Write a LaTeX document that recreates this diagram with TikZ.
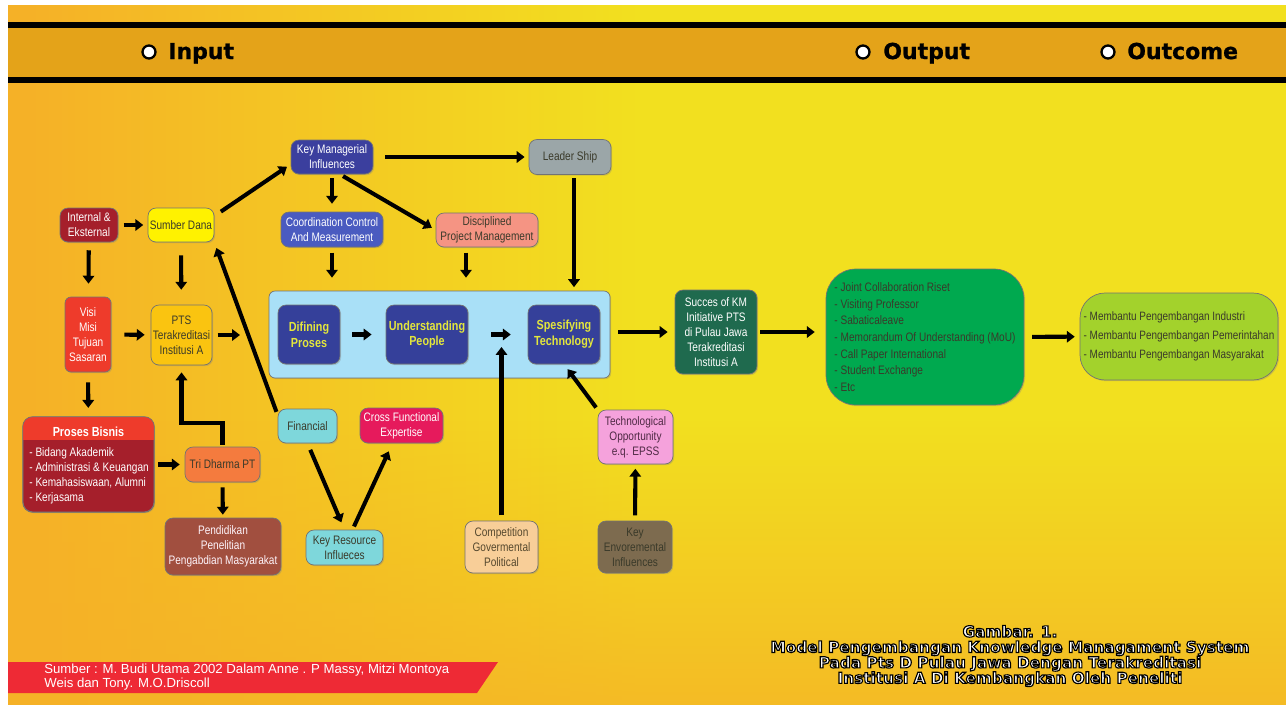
\documentclass[tikz,border=0pt]{standalone}
\usepackage{fontspec}
\setmainfont{Liberation Sans}
\newfontfamily\narrowfont[FakeStretch=0.82]{Liberation Sans}
\newfontfamily\headfont{DejaVu Sans}
\newfontfamily\heavyfont[FakeBold=1]{DejaVu Sans Bold}
\usetikzlibrary{arrows.meta,shadows,fadings,positioning}

\definecolor{bgorange}{HTML}{F5B127}
\definecolor{bgyellow}{HTML}{F2E01F}
\definecolor{bandorange}{HTML}{E4A319}
\definecolor{darkred}{HTML}{A51F2B}
\definecolor{brightred}{HTML}{EE3B2B}
\definecolor{lemon}{HTML}{FFF200}
\definecolor{gold}{HTML}{FAC410}
\definecolor{navy}{HTML}{3B3F9E}
\definecolor{midblue}{HTML}{4A5BC0}
\definecolor{slate}{HTML}{9BA6A8}
\definecolor{salmon}{HTML}{F59483}
\definecolor{skyblue}{HTML}{A9E0F7}
\definecolor{innerblue}{HTML}{35409A}
\definecolor{inneryellow}{HTML}{E3E63C}
\definecolor{teal}{HTML}{1F6A4E}
\definecolor{kmgreen}{HTML}{00A94F}
\definecolor{lime}{HTML}{A3D22C}
\definecolor{tangerine}{HTML}{F47B3E}
\definecolor{rust}{HTML}{A14F3F}
\definecolor{aqua}{HTML}{7ED7DB}
\definecolor{magenta}{HTML}{E61A5C}
\definecolor{pink}{HTML}{F5A2DC}
\definecolor{peach}{HTML}{F8CE98}
\definecolor{mud}{HTML}{7D6B4F}
\definecolor{bannerred}{HTML}{EE2A35}
\definecolor{darktext}{HTML}{3A3A2A}

% white letters with a black rim
\newcommand{\rimmed}[1]{\special{pdf:literal direct 2 Tr 0.65 w 0 0 0 RG}#1\special{pdf:literal direct 0 Tr}}

\begin{document}
\begin{tikzpicture}[x=0.02cm,y=-0.02cm,>={Triangle[length=4.5pt,width=6.5pt]},
                    font=\narrowfont\fontsize{7}{8.5}\selectfont]
  \tikzstyle{box}=[draw=black!55,line width=0.4pt,rounded corners=0.16cm,align=center,
                   inner sep=1pt,text=darktext,
                   drop shadow={opacity=0.3,shadow xshift=0.7pt,shadow yshift=-0.7pt}]
  \tikzstyle{inner}=[box,fill=innerblue,text=inneryellow,minimum height=1.18cm,
                     font=\narrowfont\bfseries\fontsize{7.5}{9}\selectfont]
  \tikzstyle{arr}=[->,line width=2.3pt,shorten <=3pt,shorten >=2.5pt]
  \tikzstyle{headtext}=[anchor=base west,inner sep=0pt,font=\heavyfont\fontsize{12.5}{14}\selectfont]
  \tikzstyle{headdot}=[circle,draw=black,fill=white,line width=1.3pt,minimum size=0.26cm,inner sep=0pt]

  \useasboundingbox (0,0) rectangle (1286,704);
  % background and header band
  \fill[white] (0,0) rectangle (1286,704);
  \fill[bgorange] (8,5) rectangle (30,712);
  \shade[left color=bgorange,right color=bgyellow] (29,5) rectangle (641,712);
  \fill[bgyellow] (640,5) rectangle (1290,712);
  \fill[bgorange,opacity=0.8,path fading=north] (8,420) rectangle (1290,712);
  \fill[black] (8,22) rectangle (1290,28);
  \fill[bandorange] (8,28) rectangle (1290,77);
  \fill[black] (8,77) rectangle (1290,83);

  \node[headdot] (indot) at (149,52) {};
  \node[headtext] (intext) at (168,59) {Input};
  \node[headdot] (outdot) at (863,52) {};
  \node[headtext] (outtext) at (883,59) {Output};
  \node[headdot] (outcomedot) at (1108,52) {};
  \node[headtext] (outcometext) at (1127,59) {Outcome};

  % left column
  \node[box,fill=darkred,text=white,minimum width=1.16cm,minimum height=0.68cm] (intern) at (89,225) {Internal \&\\Eksternal};
  \node[box,fill=lemon,minimum width=1.32cm,minimum height=0.68cm] (sumber) at (181,225) {Sumber Dana};
  \node[box,fill=brightred,text=white,rounded corners=0.12cm,minimum width=0.92cm,minimum height=1.5cm] (visi) at (88,334.5) {Visi\\Misi\\Tujuan\\Sasaran};
  \node[box,fill=gold,minimum width=1.22cm,minimum height=1.2cm] (pts) at (181.5,335) {PTS\\Terakreditasi\\Institusi A};
  \node[box,fill=darkred,rounded corners=0.2cm,minimum width=2.62cm,minimum height=1.9cm] (bisnis) at (88.5,464.5) {};
  \begin{scope}
    \clip[rounded corners=0.2cm] (bisnis.south west) rectangle (bisnis.north east);
    \fill[brightred] (bisnis.north west) rectangle ([yshift=-0.46cm]bisnis.north east);
  \end{scope}
  \draw[black!55,line width=0.4pt,rounded corners=0.2cm] (bisnis.south west) rectangle (bisnis.north east);
  \node[anchor=north,text=white,font=\narrowfont\bfseries\fontsize{7.5}{9}\selectfont] (bisnistitle) at ([yshift=-0.08cm]bisnis.north) {Proses Bisnis};
  \node[anchor=north west,align=left,text=white,inner sep=0pt] (bisnislist) at (29,447) {- Bidang Akademik\\- Administrasi \& Keuangan\\- Kemahasiswaan, Alumni\\- Kerjasama};
  \node[box,fill=tangerine,minimum width=1.5cm,minimum height=0.7cm] (tri) at (222.5,464.5) {Tri Dharma PT};
  \node[box,fill=rust,text=white!88!pink,minimum width=2.32cm,minimum height=1.14cm] (didik) at (223,546.5) {Pendidikan\\Penelitian\\Pengabdian Masyarakat};

  % managerial influences
  \node[box,fill=navy,text=white,minimum width=1.64cm,minimum height=0.68cm] (keym) at (332,157) {Key Managerial\\Influences};
  \node[box,fill=slate,minimum width=1.64cm,minimum height=0.7cm] (leader) at (570,157) {Leader Ship};
  \node[box,fill=midblue,text=white,minimum width=2.04cm,minimum height=0.7cm] (coord) at (332,229.5) {Coordination Control\\And Measurement};
  \node[box,fill=salmon,minimum width=2.04cm,minimum height=0.68cm] (disc) at (487,230) {Disciplined\\Project Management};

  % knowledge panel
  \node[box,fill=skyblue,rounded corners=0.12cm,minimum width=6.82cm,minimum height=1.74cm] (panel) at (439.5,334.5) {};
  \node[inner,minimum width=1.24cm] (dfn) at (309,334.5) {Difining\\Proses};
  \node[inner,minimum width=1.64cm] (under) at (427,334.5) {Understanding\\People};
  \node[inner,minimum width=1.44cm] (spes) at (564,334.5) {Spesifying\\Technology};

  % resources
  \node[box,fill=aqua,minimum width=1.18cm,minimum height=0.68cm] (fin) at (307.5,426) {Financial};
  \node[box,fill=magenta,text=white,minimum width=1.66cm,minimum height=0.7cm] (cross) at (401.5,425.5) {Cross Functional\\Expertise};
  \node[box,fill=aqua,minimum width=1.54cm,minimum height=0.7cm] (keyres) at (344.5,547.5) {Key Resource\\Influeces};
  \node[box,fill=peach,text=darktext!80!brown,minimum width=1.46cm,minimum height=1.04cm] (comp) at (501.5,547) {Competition\\Govermental\\Political};
  \node[box,fill=pink,text=darktext!70!violet,minimum width=1.5cm,minimum height=1.08cm] (tech) at (635.5,437) {Technological\\Opportunity\\e.q. EPSS};
  \node[box,fill=mud,minimum width=1.48cm,minimum height=1.04cm] (env) at (635,547) {Key\\Envoremental\\Influences};

  % output and outcome
  \node[box,fill=teal,text=white,minimum width=1.64cm,minimum height=1.68cm] (succes) at (716,332) {Succes of KM\\Initiative PTS\\di Pulau Jawa\\Terakreditasi\\Institusi A};
  \node[box,fill=kmgreen,align=left,rounded corners=0.6cm,minimum width=3.96cm,minimum height=2.72cm,
        font=\narrowfont\fontsize{7}{9.5}\selectfont] (joint) at (925,337) {- Joint Collaboration Riset\\- Visiting Professor\\- Sabaticaleave\\- Memorandum Of Understanding (MoU)\\- Call Paper International\\- Student Exchange\\- Etc};
  \node[box,fill=lime,align=left,rounded corners=0.5cm,minimum width=3.96cm,minimum height=1.74cm,
        font=\narrowfont\fontsize{6.9}{10.8}\selectfont] (bantu) at (1179,336.5) {- Membantu Pengembangan Industri\\- Membantu Pengembangan Pemerintahan\\- Membantu Pengembangan Masyarakat};

  \coordinate (ptsend) at (240,335);
  \coordinate (compend) at (501.5,347);

  % connectors
  \draw[arr] (intern) -- (sumber);
  \draw[arr,shorten <=4.5pt,shorten >=7.4pt] (intern) -- (visi);
  \draw[arr,shorten <=7.4pt,shorten >=8.5pt] (sumber) -- (pts);
  \draw[arr,shorten <=7.4pt,shorten >=3.4pt] (visi) -- (pts);
  \draw[arr,shorten >=0pt] (pts) -- (ptsend);
  \draw[arr,shorten <=5.7pt,shorten >=5pt] (visi) -- (bisnis);
  \draw[arr,shorten <=4.5pt] (sumber.15) -- (keym.190);
  \draw[arr,shorten <=6.8pt,shorten >=2.3pt] (keym) -- (leader);
  \draw[arr,shorten <=2.3pt,shorten >=4.5pt] (keym) -- (coord);
  \draw[arr,shorten <=2pt] ([xshift=0.16cm]keym.south) -- (disc.west);
  \draw[arr,shorten >=7.4pt] (coord.south) -- (coord.south |- panel.north);
  \draw[arr,shorten >=7.4pt] ([xshift=-0.42cm]disc.south) -- ([xshift=-0.42cm]disc.south |- panel.north);
  \draw[arr,shorten <=2pt,shorten >=2pt] ([xshift=0.08cm]leader.south) -- ([xshift=0.08cm]leader.south |- panel.north);
  \draw[arr,shorten <=2pt,shorten >=3.4pt] (fin.160) -- (sumber.south east);
  \draw[arr,shorten <=1pt,shorten >=4pt] (tri.north) -- ++(0,-24) -| (pts.south);
  \draw[arr,shorten <=2.3pt,shorten >=2.8pt] (bisnis.east |- tri.west) -- (tri.west);
  \draw[arr,shorten <=2.8pt,shorten >=1.7pt] (tri) -- (didik);
  \draw[arr,shorten <=4pt,shorten >=4.5pt] (fin.south) -- (keyres.north);
  \draw[arr,shorten <=2pt,shorten >=5pt] ([xshift=0.16cm]keyres.north) -- ([xshift=-0.18cm]cross.south);
  \draw[arr,shorten >=0pt] (comp.north) -- (compend);
  \draw[arr,shorten <=1.5pt,shorten >=3.4pt] (tech.north west) -- (spes.south);
  \draw[arr] (env) -- (tech);
  \draw[arr,shorten <=6.8pt,shorten >=8pt] (dfn) -- (under);
  \draw[arr,shorten <=13pt,shorten >=9.6pt] (under) -- (spes);
  \draw[arr,shorten <=4.5pt,shorten >=4pt] (panel.east |- succes.west) -- (succes.west);
  \draw[arr,shorten <=1.7pt,shorten >=6.2pt] (succes.east) -- (succes.east -| joint.west);
  \draw[arr,shorten <=4.5pt,shorten >=2.8pt] (joint) -- (bantu);

  % footer
  \fill[bannerred] (8,662) -- (498,662) -- (477,693) -- (8,693) -- cycle;
  \node[anchor=north west,align=left,text=white,inner sep=0pt,font=\fontsize{7.5}{8}\selectfont] (source) at (44,664)
       {Sumber : M. Budi Utama 2002 Dalam Anne . P Massy, Mitzi Montoya\\Weis dan Tony. M.O.Driscoll};
  \node[align=center,text=white,inner sep=0pt,font=\headfont\bfseries\fontsize{8.7}{8.8}\selectfont] (caption) at (1010,656)
       {\rimmed{Gambar. 1.}\\
        \rimmed{Model Pengembangan Knowledge Managament System}\\
        \rimmed{Pada Pts D Pulau Jawa Dengan Terakreditasi}\\
        \rimmed{Institusi A Di Kembangkan Oleh Peneliti}};
\end{tikzpicture}
\end{document}
